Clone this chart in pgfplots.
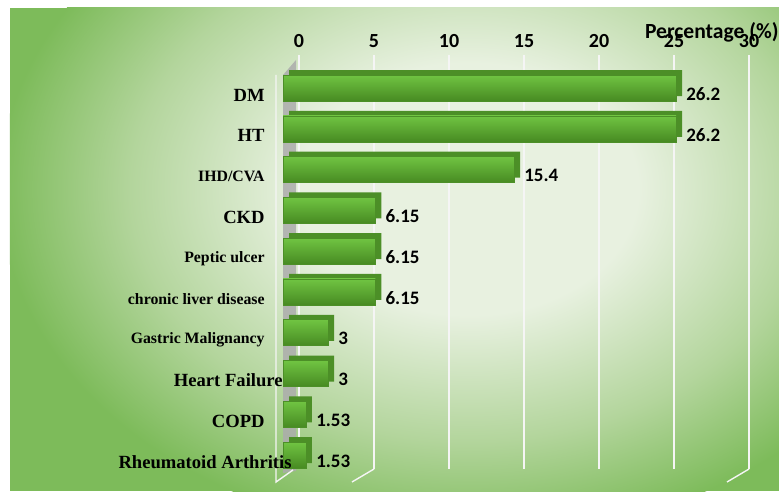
\documentclass[border=0pt]{standalone}
\usepackage{pgfplots}
\usepackage{pgfplotstable}
\pgfplotsset{compat=1.18}
\usepackage{fontspec}
\setmainfont{Liberation Serif}
\newfontfamily\calib{Carlito}
\definecolor{bgout}{HTML}{7DBB5A}
\definecolor{bgmid}{HTML}{B3D59C}
\definecolor{bglight}{HTML}{E8F1E0}
\definecolor{barback}{HTML}{4C8F27}
\definecolor{bartop}{HTML}{70C442}
\definecolor{barmid}{HTML}{62B636}
\definecolor{barbot}{HTML}{478A22}
\pgfdeclareradialshading{bgshade}{\pgfpoint{0bp}{0bp}}{color(0bp)=(bglight); color(9bp)=(bglight); color(18bp)=(bgmid); color(25bp)=(bgout); color(50bp)=(bgout)}
\newcommand{\Lg}{\fontsize{9.3}{10}\selectfont\bfseries}
\newcommand{\Sm}{\fontsize{7.9}{9}\selectfont\bfseries}
\pgfplotstableread{
i v
0 26.2
1 26.2
2 15.4
3 6.15
4 6.15
5 6.15
6 3
7 3
8 1.53
9 1.53
}\data
\pgfplotsset{
  frontbar/.style={xbar, bar width=13pt, draw=barback, line width=0.3pt,
    top color=bartop, middle color=barmid, bottom color=barbot, xshift=-8pt,
    nodes near coords, point meta=x,
    nodes near coords style={font=\calib\bfseries\fontsize{9.5}{11}\selectfont, text=black, anchor=west, inner sep=0pt, xshift=5pt, yshift=-3pt}},
}
\begin{document}
\begin{tikzpicture}
\fill[white] (-149.5pt,-11pt) rectangle (240pt,234.5pt);
\begin{scope}
\clip (-144.5pt,-11pt) rectangle (240pt,230.5pt);
\fill[bgout] (-144.5pt,-11pt) rectangle (240pt,230.5pt);
\shade[shading=bgshade] (85pt,140pt) ellipse (235pt and 175pt);
\end{scope}
% grid lines (back wall)
\foreach \gx in {0,37.5,...,225.1}{
  \draw[white!92!gray, line width=0.8pt] (\gx pt,0pt) -- (\gx pt,207pt);
}
% left wall of the 3D frame
\fill[gray!65!white, opacity=0.85] (-8pt,197pt) -- (-1.5pt,204.5pt) -- (-1.5pt,-1pt) -- (-8pt,-2pt) -- cycle;
% floor lines
\draw[white!92!gray, line width=0.7pt] (-11.5pt,197pt) -- (-11.5pt,-6.5pt) -- (-3pt,-0.5pt);
\draw[white!92!gray, line width=0.7pt] (225pt,0pt) -- (214pt,-6.5pt);
\draw[white!92!gray, line width=0.7pt] (37.5pt,0pt) -- (26.5pt,-6.5pt);
\begin{axis}[
  scale only axis, width=225pt, height=207pt,
  xmin=0, xmax=30, ymin=-0.81, ymax=9.34, y dir=reverse,
  axis line style={draw=none}, major tick length=0pt, axis on top,
  xtick={0,5,...,30}, xticklabel pos=upper,
  xticklabel style={font=\calib\bfseries\fontsize{10}{12}\selectfont, inner sep=0pt, yshift=3.5pt},
  /pgf/number format/assume math mode=true,
  ytick={0,...,9},
  yticklabels={{\Lg DM},{\Lg HT},{\Sm IHD/CVA},{\Lg CKD},{\Sm Peptic ulcer},{\Sm chronic liver disease},{\Sm Gastric Malignancy},{\Lg Heart Failure\hspace*{-9pt}},{\Lg COPD},{\Lg Rheumatoid Arthritis\hspace*{-13.5pt}}},
  yticklabel style={anchor=east, inner sep=0pt, xshift=-17pt, yshift=-3.5pt},
  clip=false,
]
\addplot[xbar, bar width=13pt, fill=barback, draw=none, xshift=-5pt, yshift=2.5pt] table[x=v, y=i]{\data};
\addplot[frontbar] coordinates {(26.2,0)};
\addplot[frontbar] coordinates {(26.2,1)};
\addplot[frontbar] coordinates {(15.4,2)};
\addplot[frontbar] coordinates {(6.15,3)};
\addplot[frontbar] coordinates {(6.15,4)};
\addplot[frontbar] coordinates {(6.15,5)};
\addplot[frontbar] coordinates {(3,6)};
\addplot[frontbar] coordinates {(3,7)};
\addplot[frontbar] coordinates {(1.53,8)};
\addplot[frontbar] coordinates {(1.53,9)};
\end{axis}
\node[anchor=east, inner sep=0pt, font=\calib\bfseries\fontsize{10.8}{12}\selectfont] at (240pt,218.5pt) {Percentage (\%)};
\pgfresetboundingbox
\path[use as bounding box] (-149.5pt,-11pt) rectangle (240pt,234.5pt);
\end{tikzpicture}
\end{document}
